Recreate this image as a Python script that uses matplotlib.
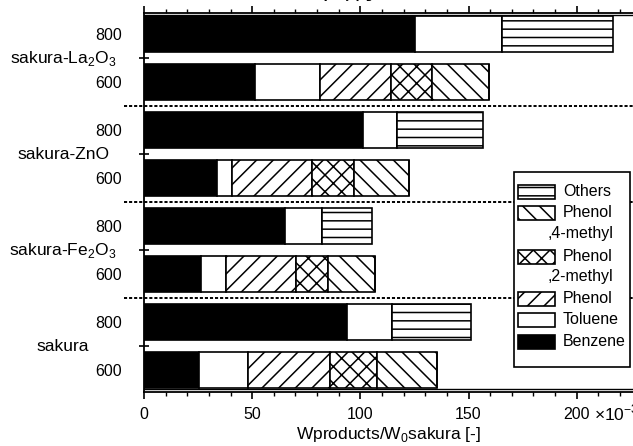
import matplotlib
matplotlib.use("Agg")
import numpy as np
import matplotlib.pyplot as plt
from matplotlib.patches import Rectangle
import matplotlib.transforms as mtransforms

plt.rcParams['font.family'] = ['Liberation Sans', 'DejaVu Sans']
plt.rcParams['hatch.linewidth'] = 1.1
plt.rcParams['mathtext.fontset'] = 'custom'
plt.rcParams['mathtext.rm'] = 'Liberation Sans'

# samples, bottom to top
groups = ['sakura', 'sakura-Fe$_2$O$_3$', 'sakura-ZnO', 'sakura-La$_2$O$_3$']
temps = ['600', '800']

# one value per bar: sakura600, sakura800, Fe600, Fe800, ZnO600, ZnO800, La600, La800
benzene = [25.4, 93.8, 26.3, 65.1, 33.8, 101.2, 51.3, 125.2]
toluene = [22.6, 20.7, 11.6, 17.1, 7.0, 15.7, 30.0, 40.2]
phenol = [37.9, 0, 32.3, 0, 36.8, 0, 32.8, 0]
phenol_2me = [21.7, 0, 14.8, 0, 19.4, 0, 18.9, 0]
phenol_4me = [27.7, 0, 21.7, 0, 25.4, 0, 26.4, 0]
others = [0, 36.5, 0, 23.1, 0, 39.7, 0, 51.2]

series = [benzene, toluene, phenol, phenol_2me, phenol_4me, others]
fills = ['black', 'white', 'white', 'white', 'white', 'white']
hatches = [None, None, '//', 'xx', '\\\\', '--']
legend_labels = ['Benzene', 'Toluene', 'Phenol', 'Phenol', 'Phenol', 'Others']

fig = plt.figure(figsize=(6.33, 4.46), dpi=100)
ax = fig.add_axes([0.2275, 0.1211, 0.7725, 0.8498])

gpos = np.arange(len(groups))
ypos = np.ravel([[g - 0.25, g + 0.25] for g in gpos])
h = 0.365

left = np.zeros(len(ypos))
for vals, fc, ht in zip(series, fills, hatches):
    vals = np.array(vals)
    ax.barh(ypos, vals, height=h, left=left, color=fc, edgecolor='black',
            hatch=ht, linewidth=1.2, zorder=2)
    left += vals

ax.set_xlim(0, 226)
ax.set_ylim(-0.479, 3.469)

ax.set_xticks([0, 50, 100, 150, 200])
ax.set_xticks(np.arange(0, 230, 10), minor=True)
ax.tick_params(axis='x', which='major', direction='out', length=5, width=1.2,
               labelsize=11.5, pad=6)
ax.tick_params(axis='x', which='minor', direction='out', length=3, width=1.0)
ax.tick_params(axis='x', which='both', top=True)

ax.set_yticks(gpos, [''] * len(gpos))
ax.tick_params(axis='y', which='major', direction='inout', length=7, width=1.2)
ax.set_yticks(ypos, temps * len(groups), minor=True)
ax.tick_params(axis='y', which='minor', length=0, pad=16, labelsize=11.5)

ax.spines['right'].set_visible(False)
for s in ['left', 'top', 'bottom']:
    ax.spines[s].set_linewidth(1.3)

# inner frame lines
ax.plot([0, 1], [0.008, 0.008], color='black', lw=1.0, transform=ax.transAxes, clip_on=False)
ax.plot([0, 1], [0.994, 0.994], color='black', lw=1.0, transform=ax.transAxes, clip_on=False)

# separators between samples
for g in gpos[:-1]:
    ax.plot([-0.04, 1], [g + 0.5, g + 0.5], color='black', lw=1.4,
            ls=(0, (1.6, 1.0)), transform=ax.get_yaxis_transform(),
            clip_on=False, zorder=1)

# sample names
tr = mtransforms.blended_transform_factory(fig.transFigure, ax.transData)
for g, name in zip(gpos, groups):
    fig.text(63 / 633, g, name, transform=tr, ha='center', va='center', fontsize=12.5)

ax.set_xlabel('Wproducts/W$_0$sakura [-]', fontsize=12.5, labelpad=2)
fig.text(594 / 633, 0.074, '×10$^{-3}$', fontsize=12.5, ha='left', va='center')

fig.text(0.476, 1.003, 'の DTG 曲線', fontsize=21, ha='center', va='baseline',
         family=['Noto Sans CJK JP', 'DejaVu Sans'])

# legend box
lx0, lx1, ly0, ly1 = 0.7566, 0.9939, 0.066, 0.5805
ax.add_patch(Rectangle((lx0, ly0), lx1 - lx0, ly1 - ly0, transform=ax.transAxes,
                       facecolor='white', edgecolor='black', lw=1.2, zorder=5))
rows = [0.5277, 0.4723, 0.4169, 0.3562, 0.3034, 0.2454, 0.1900, 0.1319]
order = [5, 4, None, 3, None, 2, 1, 0]
extra = {2: ',4-methyl', 4: ',2-methyl'}
for i, (ry, k) in enumerate(zip(rows, order)):
    if k is None:
        ax.text(0.8262, ry, extra[i], transform=ax.transAxes, fontsize=11.5,
                ha='left', va='center', zorder=6)
        continue
    ax.add_patch(Rectangle((0.7648, ry - 0.0185), 0.0757, 0.037, transform=ax.transAxes,
                           facecolor=fills[k], edgecolor='black', hatch=hatches[k],
                           lw=1.2, zorder=6))
    ax.text(0.8569, ry, legend_labels[k], transform=ax.transAxes, fontsize=11.5,
            ha='left', va='center', zorder=6)

fig.savefig('out.png', dpi=100)
